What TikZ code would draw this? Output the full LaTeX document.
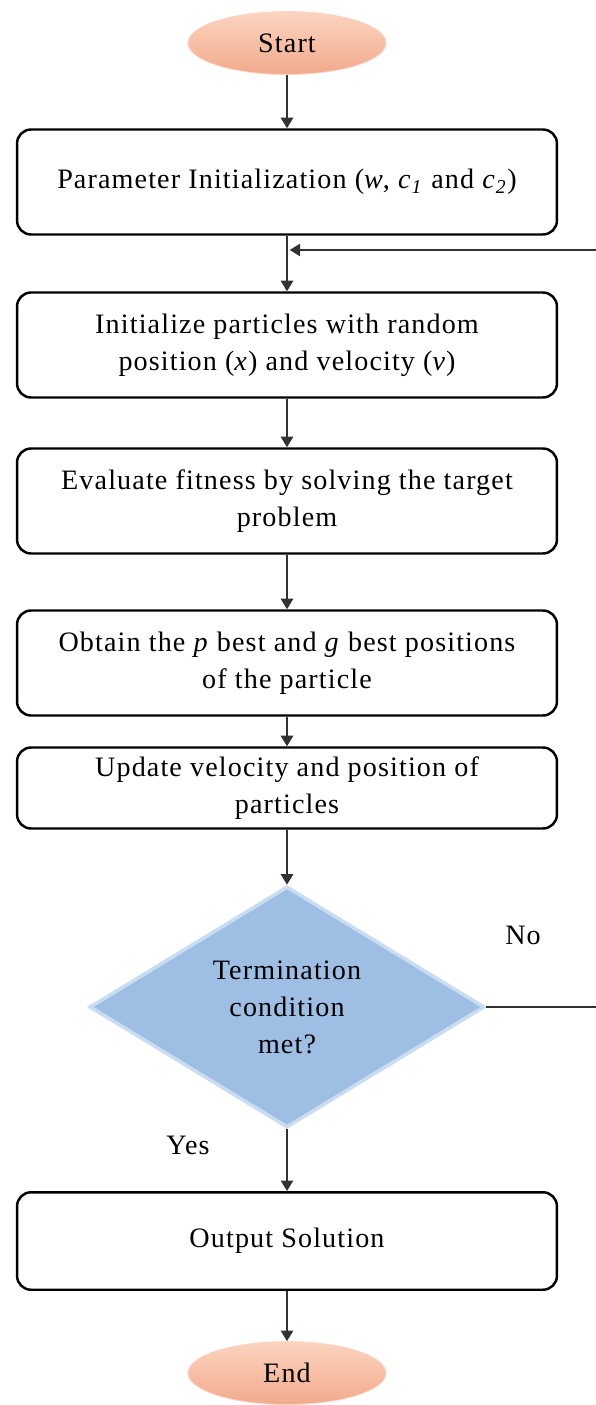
\documentclass[tikz,border=0pt]{standalone}
\usepackage{fontspec}
\setmainfont[LetterSpace=4]{Liberation Serif}
\usetikzlibrary{shapes.geometric,arrows.meta}

\definecolor{peachtop}{RGB}{252,212,192}
\definecolor{peachbot}{RGB}{242,170,140}
\definecolor{condblue}{RGB}{158,190,228}
\definecolor{condedge}{RGB}{200,220,242}
\definecolor{linkgray}{RGB}{50,50,50}

\newcommand{\boxfont}{\fontsize{16}{21}\selectfont}

\tikzset{
  terminal/.style={ellipse, top color=peachtop, bottom color=peachbot,
    draw=peachtop, minimum width=3.96cm, minimum height=1.26cm,
    inner sep=0pt, font=\boxfont},
  stepbox/.style={rectangle, rounded corners=0.28cm, draw, line width=1.4pt,
    minimum width=10.8cm, minimum height=2.1cm, align=center, font=\boxfont},
  decision/.style={diamond, fill=condblue, draw=condedge, line width=2pt,
    minimum width=7.9cm, minimum height=4.7cm, inner sep=0pt,
    align=center, font=\boxfont},
  link/.style={draw=linkgray, line width=1.1pt,
    -{Triangle[width=7pt,length=6pt]}},
  lbl/.style={font=\boxfont}
}

\begin{document}
\begin{tikzpicture}[x=0.02cm,y=-0.02cm]
  \useasboundingbox (0,0) rectangle (595,1405);

  % flow nodes
  \node[terminal] (start) at (287,43) {Start};
  \node[stepbox] (param) at (287,182)
       {Parameter Initialization (\textit{w}, \textit{c}\textsubscript{\textit{1}} and \textit{c}\textsubscript{\textit{2}})};
  \node[stepbox] (init) at (287,345)
       {Initialize particles with random\\position (\textit{x}) and velocity (\textit{v})};
  \node[stepbox] (eval) at (287,501)
       {Evaluate fitness by solving the target\\problem};
  \node[stepbox] (best) at (287,663)
       {Obtain the \textit{p} best and \textit{g} best positions\\of the particle};
  \node[stepbox,minimum height=1.62cm] (update) at (287,788)
       {Update velocity and position of\\particles};
  \node[decision] (cond) at (287,1007)
       {Termination\\condition\\met?};
  \node[stepbox,minimum height=1.95cm] (output) at (287,1241) {Output Solution};
  \node[terminal] (end) at (287,1373) {End};

  % loop join point
  \coordinate (join) at (287,250);

  \node[lbl] (no) at (523,935) {No};
  \node[lbl] (yes) at (188,1145) {Yes};

  % connectors
  \draw[link] (start) -- (param);
  \draw[link] (param) -- (init);
  \draw[link] (init) -- (eval);
  \draw[link] (eval) -- (best);
  \draw[link] (best) -- (update);
  \draw[link] (update) -- (cond);
  \draw[link] (cond) -- (output);
  \draw[link] (output) -- (end);

  \draw[link,shorten >=1.5pt] (cond.east) -- (600,1007) |- (join);
\end{tikzpicture}
\end{document}
